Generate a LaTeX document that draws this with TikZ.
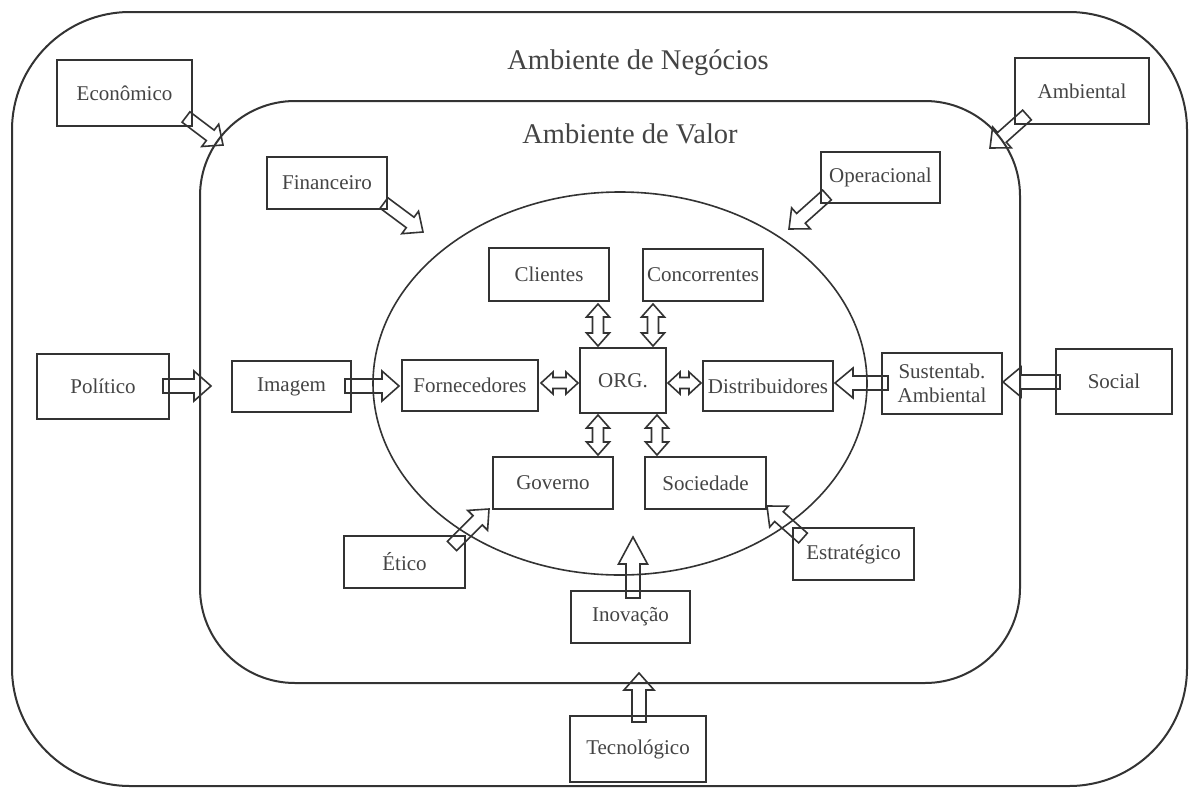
\documentclass[tikz,border=0pt]{standalone}
\usepackage{fontspec}
\setmainfont{Liberation Serif}
\usetikzlibrary{calc,shapes.geometric}
\definecolor{ln}{HTML}{333333}
\definecolor{tx}{HTML}{444444}
\tikzset{
  box/.style={draw=ln, line width=2.4pt, rectangle, inner sep=0pt, text=tx,
              font=\fontsize{21}{24}\selectfont, align=center},
  arr/.style={draw=ln, line width=1.6pt, line join=miter},
  frame/.style={draw=ln, line width=2pt, inner sep=0pt, outer sep=0pt},
  titletext/.style={text=tx, font=\fontsize{28.5}{32}\selectfont, inner sep=0pt}
}
% single block arrow: tail, tip, shaft half width, head half width, head length
\newcommand\blockarr[5]{%
  \path ($(#2)!#5!(#1)$) coordinate (hb);
  \draw[arr] ($(#1)!#3!90:(#2)$) -- ($(hb)!#3!90:(#2)$) -- ($(hb)!#4!90:(#2)$) -- (#2)
     -- ($(hb)!#4!-90:(#2)$) -- ($(hb)!#3!-90:(#2)$) -- ($(#1)!#3!-90:(#2)$) -- cycle;}
% double block arrow
\newcommand\dblarr[5]{%
  \path ($(#2)!#5!(#1)$) coordinate (hb) ($(#1)!#5!(#2)$) coordinate (ha);
  \draw[arr] (#1) -- ($(ha)!#4!90:(#2)$) -- ($(ha)!#3!90:(#2)$) -- ($(hb)!#3!90:(#2)$)
     -- ($(hb)!#4!90:(#2)$) -- (#2) -- ($(hb)!#4!-90:(#2)$) -- ($(hb)!#3!-90:(#2)$)
     -- ($(ha)!#3!-90:(#2)$) -- ($(ha)!#4!-90:(#2)$) -- cycle;}
\begin{document}
\begin{tikzpicture}[x=1pt,y=-1pt]
\useasboundingbox[fill=white] (0,0) rectangle (1191,790);
% frames
\node[frame, rounded corners=118pt, minimum width=1175pt, minimum height=774pt] (outer) at (599.5,399) {};
\node[frame, rounded corners=95pt, minimum width=820pt, minimum height=582pt] (inner) at (610,392) {};
\node[draw=ln, line width=1.6pt, ellipse, inner sep=0pt, minimum width=494pt, minimum height=383pt] (oval) at (620,383.5) {};
% titles
\node[titletext] (tneg) at (638,63) {Ambiente de Negócios};
\node[titletext] (tval) at (630,134) {Ambiente de Valor};
% boxes
\node[box, minimum width=135pt, minimum height=66pt] (econ) at (124.5,93) {Econômico};
\node[box, minimum width=134pt, minimum height=66pt] (amb)  at (1082,91) {Ambiental};
\node[box, minimum width=120pt, minimum height=52pt] (fin)  at (327,183) {Financeiro};
\node[box, minimum width=119pt, minimum height=51pt] (oper) at (880.5,177.5) {Operacional};
\node[box, minimum width=132pt, minimum height=65pt] (pol)  at (103,386.5) {Político};
\node[box, minimum width=119pt, minimum height=51pt] (img)  at (291.5,386.5) {Imagem};
\node[box, minimum width=136pt, minimum height=51pt] (forn) at (470,385.5) {Fornecedores};
\node[box, minimum width=86pt,  minimum height=65pt] (org)  at (623,380.5) {ORG.};
\node[box, minimum width=120pt, minimum height=53pt] (cli)  at (549,274.5) {Clientes};
\node[box, minimum width=120pt, minimum height=52pt] (conc) at (703,275) {Concorrentes};
\node[box, minimum width=130pt, minimum height=50pt] (dist) at (768,386) {Distribuidores};
\node[box, minimum width=120pt, minimum height=61pt] (sust) at (942,383.5) {Sustentab.\\Ambiental};
\node[box, minimum width=116pt, minimum height=65pt] (soc)  at (1114,381.5) {Social};
\node[box, minimum width=120pt, minimum height=52pt] (gov)  at (553,483) {Governo};
\node[box, minimum width=121pt, minimum height=52pt] (socd) at (705.5,483) {Sociedade};
\node[box, minimum width=121pt, minimum height=52pt] (etic) at (404.5,562) {Ético};
\node[box, minimum width=121pt, minimum height=52pt] (estr) at (853.5,554) {Estratégico};
\node[box, minimum width=119pt, minimum height=52pt] (inov) at (630.5,617) {Inovação};
\node[box, minimum width=136pt, minimum height=66pt] (tec)  at (638,749) {Tecnológico};
% arrow end points
\coordinate (econT) at (186,117);  \coordinate (econH) at (223,145);
\coordinate (ambT)  at (1027,115); \coordinate (ambH)  at (990,148);
\coordinate (finT)  at (384,203);  \coordinate (finH)  at (423,232);
\coordinate (operT) at (827,195);  \coordinate (operH) at (789,229);
\coordinate (polT)  at (163,386);  \coordinate (polH)  at (211,386);
\coordinate (imgT)  at (345,386);  \coordinate (imgH)  at (399,386);
\coordinate (fornE) at (541,383);  \coordinate (orgW)  at (578,383);
\coordinate (orgE)  at (668,383);  \coordinate (distW) at (701,383);
\coordinate (cliS)  at (598,304);  \coordinate (orgN1) at (598,346);
\coordinate (concS) at (653,304);  \coordinate (orgN2) at (653,346);
\coordinate (orgS1) at (598,415);  \coordinate (govN)  at (598,455);
\coordinate (orgS2) at (657,415);  \coordinate (socdN) at (657,455);
\coordinate (sustT) at (888,383);  \coordinate (sustH) at (835,383);
\coordinate (socT)  at (1060,382); \coordinate (socH)  at (1003,382);
\coordinate (eticT) at (452,546);  \coordinate (eticH) at (489,509);
\coordinate (estrT) at (803,538);  \coordinate (estrH) at (767,506);
\coordinate (inovT) at (633,598);  \coordinate (inovH) at (633,537);
\coordinate (tecT)  at (639,722);  \coordinate (tecH)  at (639,673);
% single arrows
\blockarr{econT}{econH}{6.5pt}{14pt}{16pt}
\blockarr{ambT}{ambH}{6.5pt}{14pt}{16pt}
\blockarr{finT}{finH}{6.5pt}{14pt}{16pt}
\blockarr{operT}{operH}{6.5pt}{14pt}{16pt}
\blockarr{polT}{polH}{7pt}{15pt}{17pt}
\blockarr{imgT}{imgH}{7pt}{15pt}{17pt}
\blockarr{sustT}{sustH}{7pt}{15pt}{18pt}
\blockarr{socT}{socH}{7pt}{15pt}{18pt}
\blockarr{eticT}{eticH}{6.5pt}{14pt}{16pt}
\blockarr{estrT}{estrH}{6.5pt}{14pt}{16pt}
\blockarr{inovT}{inovH}{7pt}{14.5pt}{27pt}
\blockarr{tecT}{tecH}{7pt}{15pt}{17pt}
% double arrows
\dblarr{fornE}{orgW}{5.5pt}{11pt}{12pt}
\dblarr{orgE}{distW}{5.5pt}{11pt}{12pt}
\dblarr{cliS}{orgN1}{5.5pt}{11.5pt}{13pt}
\dblarr{concS}{orgN2}{5.5pt}{11.5pt}{13pt}
\dblarr{orgS1}{govN}{5.5pt}{11.5pt}{13pt}
\dblarr{orgS2}{socdN}{5.5pt}{11.5pt}{13pt}
\end{tikzpicture}
\end{document}
